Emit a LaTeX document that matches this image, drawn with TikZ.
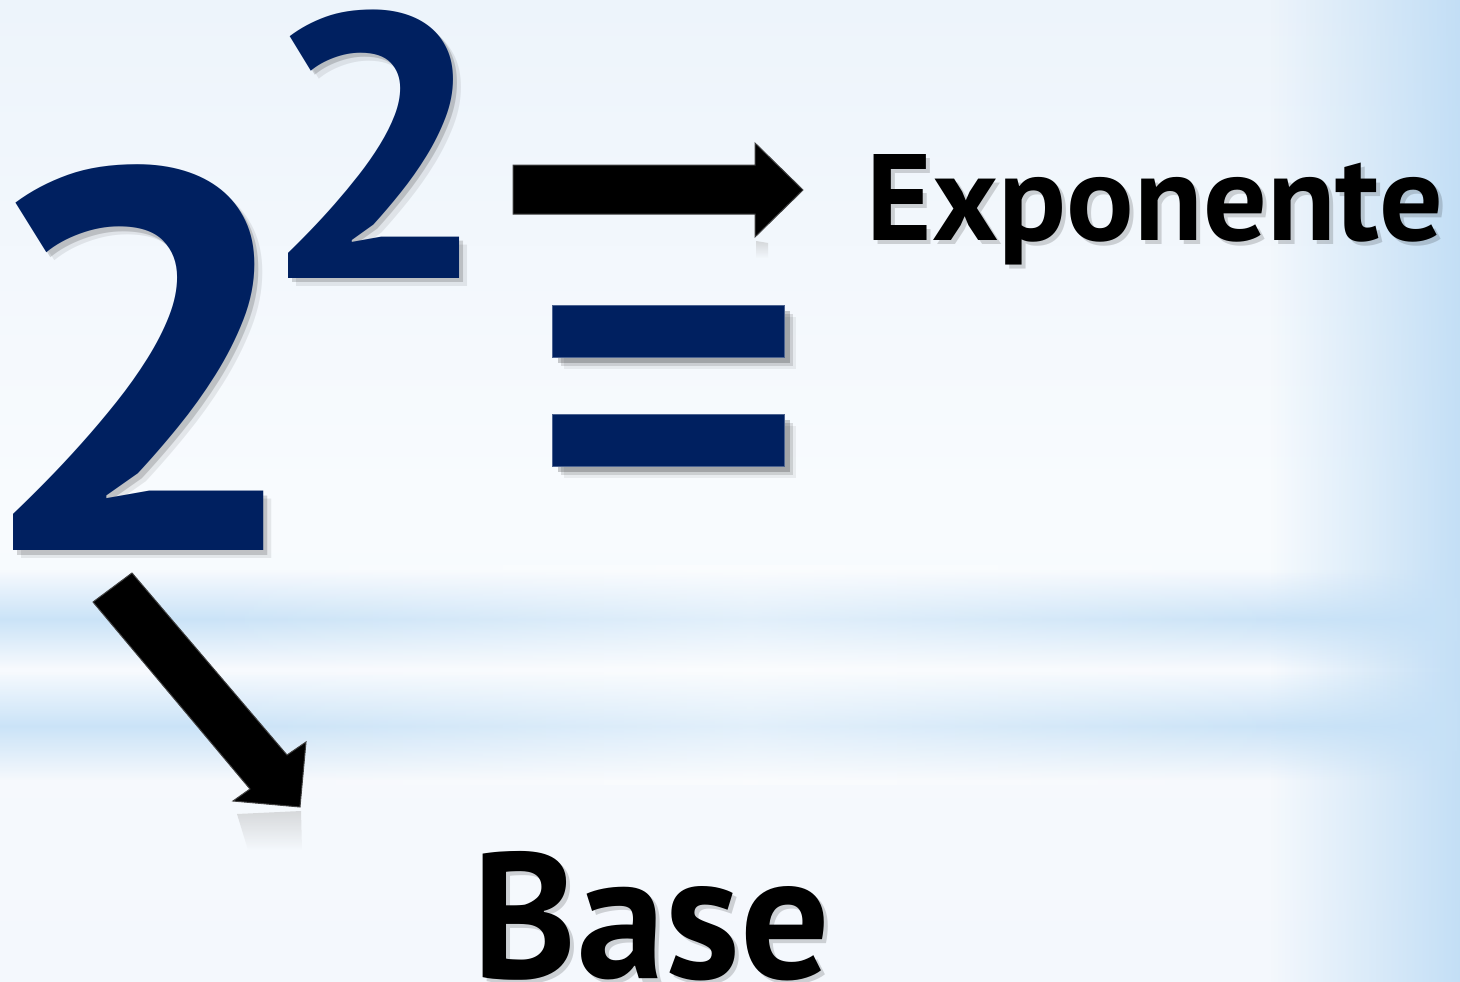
\documentclass[tikz,border=0pt]{standalone}
\usepackage{fontspec}
\usepackage{graphicx}
\setmainfont{PT Sans}
\usetikzlibrary{fadings}
\definecolor{navy}{HTML}{002060}
\definecolor{bgtop}{HTML}{EDF4FB}
\definecolor{bgmid}{HTML}{F8FBFE}
\definecolor{bgbot}{HTML}{F4F8FD}
\definecolor{skyblue}{HTML}{BEDCF5}
\definecolor{bandblue}{HTML}{C6E1F7}
\tikzfading[name=vband, top color=transparent!100, bottom color=transparent!100, middle color=transparent!0]
\tikzfading[name=hmid, left color=transparent!100, right color=transparent!100, middle color=transparent!0]
\tikzfading[name=toright, left color=transparent!100, right color=transparent!0]
\tikzfading[name=fadedown, top color=transparent!0, bottom color=transparent!100]
\tikzset{
  digit/.style={text=navy, inner sep=0pt, anchor=base},
  dshadow/.style={text=black, inner sep=0pt, anchor=base},
  word/.style={text=black, inner sep=0pt, anchor=base},
  eqbar/.style={fill=navy, draw=navy!70!white, line width=0.6pt},
  eqshadow/.style={fill=black},
  blockarrow/.style={fill=black, draw=black!75, line width=1pt, line join=miter},
}
\newcommand{\bigtwo}{\scalebox{1.1}[1]{\resizebox{!}{385pt}{\bfseries 2}}}
\newcommand{\suptwo}{\scalebox{1.08}[1]{\resizebox{!}{268pt}{\bfseries 2}}}
\newcommand{\expword}{\resizebox{576pt}{86pt}{\bfseries Exponente}}
\newcommand{\baseword}{\resizebox{357pt}{127pt}{\bfseries Base}}
\begin{document}
\begin{tikzpicture}[x=1pt,y=-1pt]
% ---------- background ----------
\useasboundingbox (0,0) rectangle (1460,982);
\shade[top color=bgtop, bottom color=bgbot, middle color=bgmid] (0,0) rectangle (1460,982);
\fill[skyblue, opacity=0.9, path fading=toright] (1270,0) rectangle (1460,982);
\fill[bandblue, opacity=0.9, path fading=vband] (0,570) rectangle (1460,668);
\fill[bandblue, opacity=0.9, path fading=vband] (0,672) rectangle (1460,780);
\fill[white, opacity=0.45, path fading=hmid] (200,565) rectangle (1300,785);
% ---------- equals sign ----------
\foreach \dx/\op in {12/0.06, 9/0.12, 6/0.2}{
  \fill[eqshadow, opacity=\op] (552+\dx,305+\dx) rectangle (784+\dx,357+\dx);
  \fill[eqshadow, opacity=\op] (552+\dx,414+\dx) rectangle (784+\dx,466+\dx);
}
\draw[eqbar] (552,305) rectangle (784,357);
\draw[eqbar] (552,414) rectangle (784,466);
% ---------- digits ----------
\node[dshadow, opacity=0.08] (b2s2) at (149.5,558) {\bigtwo};
\node[dshadow, opacity=0.16] (b2s1) at (145.5,555) {\bigtwo};
\node[digit] (b2) at (141.5,550) {\bigtwo};
\node[dshadow, opacity=0.08] (s2s2) at (384,286) {\suptwo};
\node[dshadow, opacity=0.16] (s2s1) at (380,282) {\suptwo};
\node[digit] (s2) at (376,278) {\suptwo};
% ---------- words ----------
\node[dshadow, opacity=0.16] (exps) at (1159,244) {\expword};
\node[word] (exp) at (1155,240) {\expword};
\node[dshadow, opacity=0.16] (bases) at (655.5,982) {\baseword};
\node[word] (base) at (651.5,978) {\baseword};
% ---------- reflections ----------
\fill[black!30, opacity=0.45, path fading=fadedown] (237,814) -- (301,811) -- (302,850) -- (248,850) -- cycle;
\fill[black!30, opacity=0.45, path fading=fadedown] (756,241) -- (768,243) -- (768,258) -- (756,258) -- cycle;
% ---------- arrows ----------
\filldraw[blockarrow] (513,165) -- (755,165) -- (755,143) -- (803,190) -- (755,237) -- (755,214) -- (513,214) -- cycle;
\filldraw[blockarrow] (132,573) -- (287,755) -- (306,742) -- (300,807) -- (233,801) -- (250,789) -- (93,602) -- cycle;
\end{tikzpicture}
\end{document}
